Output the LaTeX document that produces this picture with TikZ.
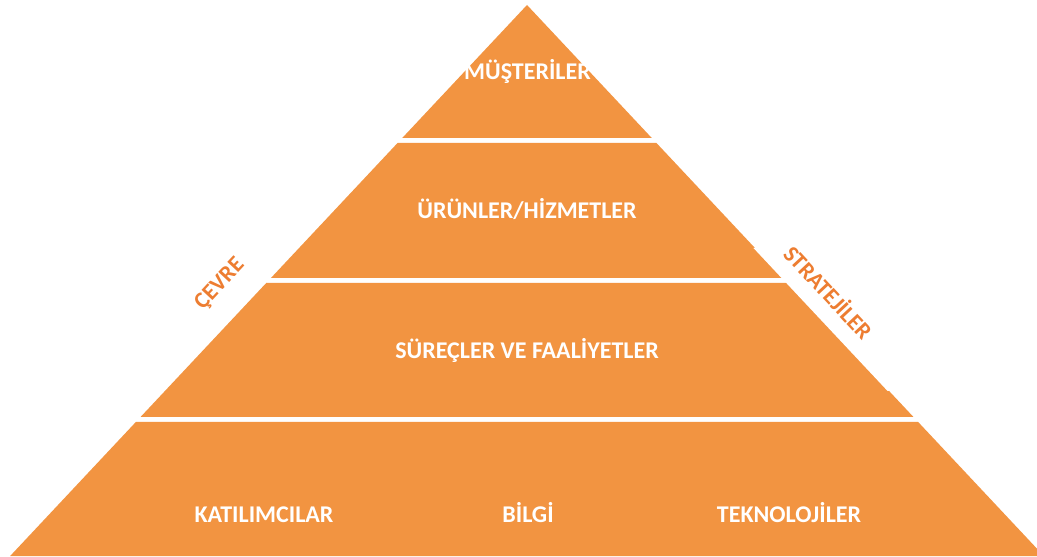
\documentclass[tikz,border=0pt]{standalone}
\usepackage{fontspec}
\setmainfont{Carlito}
\definecolor{bandorange}{HTML}{F29441}
\definecolor{sideorange}{HTML}{ED7D31}
\tikzset{every picture/.style={x=0.5pt, y=0.5pt}}
\tikzset{band/.style={fill=bandorange}}
\tikzset{band label/.style={text=white, anchor=base, inner sep=0pt, font=\bfseries\fontsize{12}{14}\selectfont}}
\tikzset{side label/.style={text=sideorange, inner sep=0pt, font=\bfseries\fontsize{11.5}{13}\selectfont}}
% x of the pyramid edge at pixel row #1
\newcommand{\halfw}[1]{0.938*(#1-5)}

\begin{document}
\begin{tikzpicture}
        \clip (0,0) rectangle (1037,556);
        \fill[white] (0,0) rectangle (1037,556);
        \foreach \t/\b in {5/138, 143/278, 283/417, 422/556}
            \fill[band] ({527-\halfw{\t}},{556-\t}) -- ({527+\halfw{\t}},{556-\t})
                -- ({527+\halfw{\b}},{556-\b}) -- ({527-\halfw{\b}},{556-\b}) -- cycle;
        \fill[white] ({527+\halfw{248}-1.5},{556-248}) -- ({527+\halfw{391}-1.5},{556-391})
            -- ({527+\halfw{391}+6},{556-391}) -- ({527+\halfw{248}+6},{556-248}) -- cycle;
        \node[band label] (musteri) at (527.5,476) {MÜŞTERİLER};
        \node[band label] (urun) at (527,337) {ÜRÜNLER/HİZMETLER};
        \node[band label] (surec) at (527,197) {SÜREÇLER VE FAALİYETLER};
        \node[band label] (katilim) at (264,33) {KATILIMCILAR};
        \node[band label] (bilgi) at (528,33) {BİLGİ};
        \node[band label] (teknoloji) at (789,33) {TEKNOLOJİLER};
        \node[side label, rotate=47] (cevre) at (220,272) {ÇEVRE};
        \node[side label, rotate=-47] (strateji) at (829,264.5) {STRATEJİLER};
    \end{tikzpicture}
\end{document}
